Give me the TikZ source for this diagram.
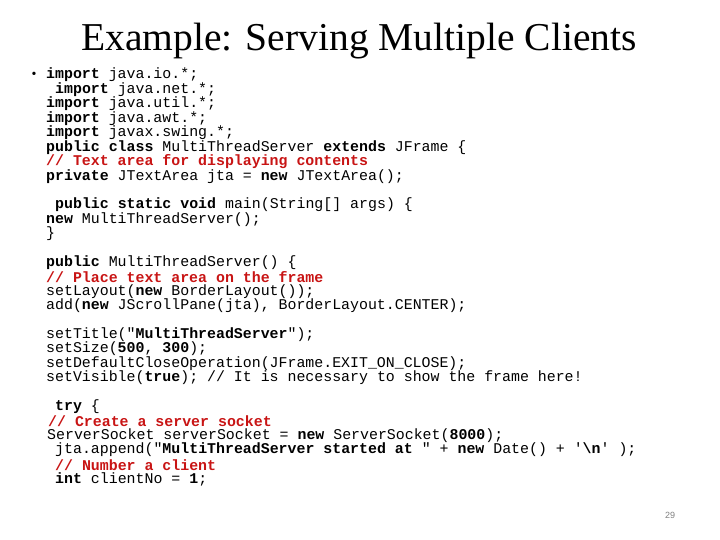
\documentclass[tikz,border=0pt]{standalone}
\usepackage{fontspec}
\setmainfont{Liberation Serif}
\setmonofont{Liberation Mono}
\setsansfont{Liberation Sans}
\definecolor{cred}{RGB}{200,20,20}
\newcommand{\kw}[1]{\textbf{#1}}
\newcommand{\cm}[1]{\textcolor{cred}{\textbf{#1}}}
\begin{document}
\begin{tikzpicture}[x=1pt,y=-1pt,
  code/.style={anchor=west,inner sep=0pt,font=\ttfamily\fontsize{14.9}{14}\selectfont}]
\useasboundingbox (0,0) rectangle (720,540);
\node[font=\fontsize{39.5}{42}\selectfont] (title) at (359,41) {Example: Serving Multiple Clients};
\node[font=\fontsize{14}{14}\selectfont] (bul) at (34,75) {•};
\node[code] (l1) at (46,75) {\kw{import} java.io.*;};
\node[code] (l2) at (55,90) {\kw{import} java.net.*;};
\node[code] (l3) at (46,104) {\kw{import} java.util.*;};
\node[code] (l4) at (46,119) {\kw{import} java.awt.*;};
\node[code] (l5) at (46,133) {\kw{import} javax.swing.*;};
\node[code] (l6) at (46,148) {\kw{public class} MultiThreadServer \kw{extends} JFrame \{};
\node[code] (l7) at (46,162) {\cm{// Text area for displaying contents}};
\node[code] (l8) at (46,177) {\kw{private} JTextArea jta = \kw{new} JTextArea();};
\node[code] (l9) at (55,205) {\kw{public static void} main(String[] args) \{};
\node[code] (l10) at (46,220) {\kw{new} MultiThreadServer();};
\node[code] (l11) at (46,234) {\}};
\node[code] (l12) at (46,263) {\kw{public} MultiThreadServer() \{};
\node[code] (l13) at (46,277) {\cm{// Place text area on the frame}};
\node[code] (l14) at (46,292) {setLayout(\kw{new} BorderLayout());};
\node[code] (l15) at (46,306) {add(\kw{new} JScrollPane(jta), BorderLayout.CENTER);};
\node[code] (l16) at (46,335) {setTitle("\kw{MultiThreadServer}");};
\node[code] (l17) at (46,349) {setSize(\kw{500}, \kw{300});};
\node[code] (l18) at (46,364) {setDefaultCloseOperation(JFrame.EXIT\_ON\_CLOSE);};
\node[code] (l19) at (46,378) {setVisible(\kw{true}); // It is necessary to show the frame here!};
\node[code] (l20) at (55,407) {\kw{try} \{};
\node[code] (l21) at (48,421) {\cm{// Create a server socket}};
\node[code] (l22) at (47,436) {ServerSocket serverSocket = \kw{new} ServerSocket(\kw{8000});};
\node[code] (l23) at (55,450) {jta.append("\kw{MultiThreadServer started at} " + \kw{new} Date() + '\kw{\textbackslash n}' );};
\node[code] (l24) at (55,465) {\cm{// Number a client}};
\node[code] (l25) at (55,479) {\kw{int} clientNo = \kw{1};};
\node[font=\sffamily\fontsize{9}{9}\selectfont,text=gray] (pg) at (670,515) {29};
\end{tikzpicture}
\end{document}
